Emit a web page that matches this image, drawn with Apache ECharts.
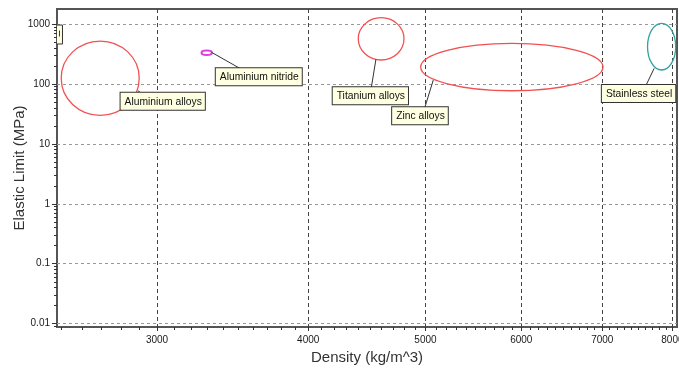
<!DOCTYPE html>
<html><head><meta charset="utf-8">
<script src="https://cdn.jsdelivr.net/npm/echarts@6/dist/echarts.min.js"></script>
<style>html,body{margin:0;padding:0;background:#fff}#c{width:679px;height:371px}</style>
</head><body><div id="c"></div>
<script>
// ---- data ----
const materials = ['Aluminium alloys', 'Aluminium nitride', 'Titanium alloys', 'Zinc alloys', 'Stainless steel'];
const densityLow  = [2500, 3265, 4400, 4955, 7630];
const densityHigh = [2900, 3330, 4800, 7010, 8050];
const limitLow  = [30, 303, 251, 77, 171];
const limitHigh = [520, 362, 1275, 476, 1027];
// label box top-left corner (data space)
const labelDensity = [2799, 3355, 4191, 4693, 6995];
const labelLimit   = [71.5, 182, 88, 40.7, 96];
// leader lines (data space)
const leaderFromDensity = [2893, 3328, 4550, 5075, 7727];
const leaderFromLimit   = [77, 337, 256, 116, 182];
const leaderToDensity   = [2908, 3512, 4511, 4995, 7610];
const leaderToLimit     = [71.5, 182, 88, 41, 96];
// partially hidden label at the left edge
const clippedBox = [2440, 2506, 464, 962];

const xTickValues = [3000, 4000, 5000, 6000, 7000, 8000];
const yTickValues = [0.01, 0.1, 1, 10, 100, 1000];
const yTickLabels = ['0.01', '0.1', '1', '10', '100', '1000'];
const densityRange = [2480, 8070];
const limitRange = [0.0088, 1780];

// ---- styles ----
const strokes = ['#f25050', '#e03ce0', '#f25050', '#f25050', '#2fa3a0'];
const fills = ['none', '#fff', 'none', 'none', 'none'];
const widths = [1.3, 2, 1.3, 1.3, 1.3];

const L = Math.log10;
const xMinor = [], yMinor = [];
for (let d = 2500; d <= 8000; d += 100) if (d % 1000) xMinor.push(L(d));
for (let e = -3; e <= 3; e++) for (let k = 2; k <= 9; k++) yMinor.push(e + L(k));

const seriesData = materials.map((m, i) => [
  L(densityLow[i]), L(densityHigh[i]), L(limitLow[i]), L(limitHigh[i]),
  L(labelDensity[i]), L(labelLimit[i]),
  L(leaderFromDensity[i]), L(leaderFromLimit[i]), L(leaderToDensity[i]), L(leaderToLimit[i])
]);

const FONT = '"Liberation Sans", Arial, sans-serif';
const chart = echarts.init(document.getElementById('c'), null, {renderer: 'canvas'});
const xBase = {type: 'value', min: L(densityRange[0]), max: L(densityRange[1]), position: 'bottom',
  axisLine: {show: false, onZero: false}, nameMoveOverlap: false};
const yBase = {type: 'value', min: L(limitRange[0]), max: L(limitRange[1]), position: 'left',
  axisLine: {show: false, onZero: false}, nameMoveOverlap: false};
chart.setOption({
  animation: false,
  grid: {left: 57, right: 2, top: 9, bottom: 44, show: true, borderColor: '#555', borderWidth: 2,
    backgroundColor: '#fff', containLabel: false, outerBoundsMode: 'none'},
  xAxis: [
    Object.assign({}, xBase, {
      name: 'Density (kg/m^3)', nameLocation: 'middle', nameGap: 23,
      nameTextStyle: {fontSize: 15, color: '#333', fontFamily: FONT},
      axisTick: {show: true, length: 4, customValues: xTickValues.map(L), lineStyle: {color: '#333'}},
      axisLabel: {customValues: xTickValues.map(L), margin: 8, fontSize: 10, color: '#1a1a1a', fontFamily: FONT,
        formatter: v => String(Math.round(Math.pow(10, v)))},
      splitLine: {show: true, lineStyle: {color: '#444', type: [4, 3], width: 1}}
    }),
    Object.assign({}, xBase, {
      axisTick: {show: true, length: 3, customValues: xMinor, lineStyle: {color: '#333'}},
      axisLabel: {show: false}, splitLine: {show: false}
    })
  ],
  yAxis: [
    Object.assign({}, yBase, {
      name: 'Elastic Limit (MPa)', nameLocation: 'middle', nameGap: 30,
      nameTextStyle: {fontSize: 15, color: '#333', fontFamily: FONT},
      axisTick: {show: true, length: 5, customValues: yTickValues.map(L), lineStyle: {color: '#333'}},
      axisLabel: {customValues: yTickValues.map(L), margin: 7, fontSize: 10, color: '#1a1a1a', fontFamily: FONT,
        formatter: v => yTickLabels[Math.round(v) + 2]},
      splitLine: {show: true, lineStyle: {color: '#999', type: [3, 3], width: 1}}
    }),
    Object.assign({}, yBase, {
      axisTick: {show: true, length: 3, customValues: yMinor, lineStyle: {color: '#333'}},
      axisLabel: {show: false}, splitLine: {show: false}
    })
  ],
  series: [
    {
      type: 'custom', clip: true, xAxisIndex: 0, yAxisIndex: 0,
      data: [[L(clippedBox[0]), L(clippedBox[1]), L(clippedBox[2]), L(clippedBox[3])]],
      renderItem(params, api) {
        const a = api.coord([api.value(0), api.value(3)]);
        const b = api.coord([api.value(1), api.value(2)]);
        return {type: 'group', children: [
          {type: 'rect', shape: {x: a[0], y: a[1], width: b[0] - a[0], height: b[1] - a[1]},
           style: {fill: '#ffffe1', stroke: '#333', lineWidth: 1}},
          {type: 'line', shape: {x1: b[0] - 3, y1: (a[1] + b[1]) / 2 - 4, x2: b[0] - 3, y2: (a[1] + b[1]) / 2 + 2},
           style: {stroke: '#335', lineWidth: 1}}
        ]};
      }
    },
    {
      type: 'custom', clip: true, xAxisIndex: 0, yAxisIndex: 0,
      data: seriesData,
      renderItem(params, api) {
        const i = params.dataIndex;
        const a = api.coord([api.value(0), api.value(2)]);
        const b = api.coord([api.value(1), api.value(3)]);
        const f = api.coord([api.value(6), api.value(7)]);
        const t = api.coord([api.value(8), api.value(9)]);
        const l = api.coord([api.value(4), api.value(5)]);
        return {type: 'group', children: [
          {type: 'ellipse',
           shape: {cx: (a[0] + b[0]) / 2, cy: (a[1] + b[1]) / 2, rx: Math.abs(b[0] - a[0]) / 2, ry: Math.abs(b[1] - a[1]) / 2},
           style: {fill: fills[i], stroke: strokes[i], lineWidth: widths[i]}},
          {type: 'line', shape: {x1: f[0], y1: f[1], x2: t[0], y2: t[1]}, style: {stroke: '#333', lineWidth: 1}},
          {type: 'text', x: l[0], y: l[1],
           style: {text: materials[i], fill: '#111', font: '10.3px ' + FONT, align: 'left', verticalAlign: 'top',
             backgroundColor: '#ffffe1', borderColor: '#333', borderWidth: 1, padding: [4, 3, 3, 4],
             boxShadowColor: 'rgba(0,0,0,0.45)', boxShadowOffsetX: 1, boxShadowOffsetY: 1, boxShadowBlur: 0}}
        ]};
      }
    }
  ]
});
</script>
</body></html>
